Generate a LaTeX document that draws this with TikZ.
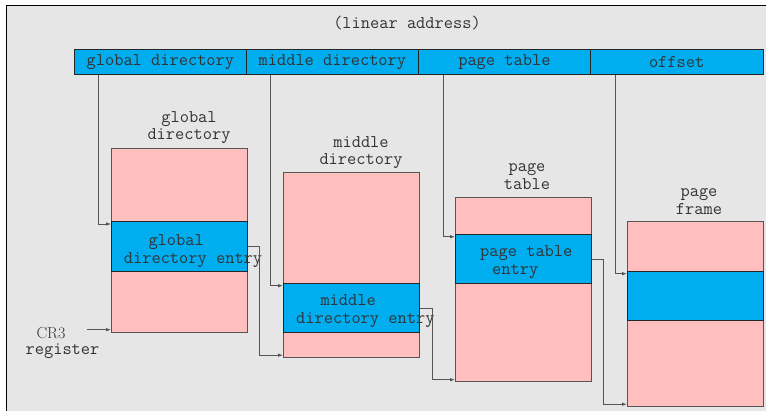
\documentclass[tikz,border=0pt]{standalone}
\usepackage{fontspec}
\usetikzlibrary{arrows.meta,calc}
\definecolor{bgc}{HTML}{E6E6E6}
\definecolor{hdr}{HTML}{00ADEF}
\definecolor{pinkc}{HTML}{FFBFBF}
\definecolor{lne}{HTML}{555555}
\definecolor{txt}{HTML}{333333}
\begin{document}
\begin{tikzpicture}[x=1pt,y=-1pt,
  every node/.style={font=\ttfamily\fontsize{17.9}{17.5}\selectfont, text=txt},
  seg/.style={draw=black!85, fill=hdr, minimum width=172pt, minimum height=25.5pt, inner sep=0pt, line width=0.8pt, anchor=north west},
  tbl/.style={draw=lne, fill=pinkc, minimum width=136pt, minimum height=184.5pt, inner sep=0pt, line width=0.9pt, anchor=north west},
  ent/.style={draw=black!85, fill=hdr, minimum width=136pt, minimum height=49.5pt, inner sep=0pt, line width=0.9pt, anchor=north west},
  conn/.style={draw=lne, line width=0.8pt, -{Latex[length=5pt,width=3.6pt]}},
  lbl/.style={align=center, inner sep=0pt},
  wl/.style={anchor=west, align=left, inner sep=0pt, font=\ttfamily\fontsize{17.9}{18}\selectfont}
]
\useasboundingbox (0,0) rectangle (766,411);
\fill[bgc] (6,6) rectangle (790,430);
\draw[black, line width=1pt] (6,430) -- (6,6) -- (790,6);

\node[lbl] (title) at (407,23) {(linear address)};

% header segments
\node[seg] (h1) at (74,49) {global directory};
\node[seg] (h2) at (246,49) {middle directory};
\node[seg] (h3) at (418,49) {page table};
\node[seg, minimum width=172.5pt] (h4) at (590,49) {offset};

% tables
\node[tbl] (t1) at (111,148) {};
\node[ent] (e1) at (111,221.5) {};
\node[tbl] (t2) at (283,172.5) {};
\node[ent] (e2) at (283,283) {};
\node[tbl] (t3) at (455,197) {};
\node[ent] (e3) at (455,234) {};
\node[tbl] (t4) at (627,221.5) {};
\node[ent] (e4) at (627,271) {};

% table titles
\node[lbl] (n1) at (189,127.5) {global\\directory};
\node[lbl] (n2) at (361,152.5) {middle\\directory};
\node[lbl] (n3) at (527,176.5) {page\\table};
\node[lbl] (n4) at (699,201.5) {page\\frame};

% entry texts
\node[wl] (e1t) at (123.7,251) {\hspace*{24.6pt}global\\directory entry};
\node[wl] (e2t) at (296,311) {\hspace*{24.3pt}middle\\directory entry};
\node[wl] (e3t) at (480,262.5) {page table\\\hspace*{12pt}entry};

% CR3
\node[lbl, font=\rmfamily\fontsize{16}{17.5}\selectfont] (cr3) at (51,333.5) {CR3};
\node[lbl] (reg) at (62.5,351.5) {register};
\coordinate (crs) at (86.7,329.7);
\draw[conn] (crs) -- (crs -| t1.west);

% header to entries
\draw[conn] ($(h1.south west)+(24.7,0)$) |- ($(e1.north west)+(0,2.5)$);
\draw[conn] ($(h2.south west)+(24.7,0)$) |- ($(e2.north west)+(0,2.7)$);
\draw[conn] ($(h3.south west)+(25,0)$) |- ($(e3.north west)+(0,2.7)$);
\draw[conn] ($(h4.south west)+(25.3,0)$) |- ($(e4.north west)+(0,2.7)$);

% entry to next table
\draw[conn] (e1.east) -- ++(11.5,0) |- ($(t2.south west)+(0,-2.7)$);
\draw[conn] (e2.east) -- ++(12,0) |- ($(t3.south west)+(0,-2.7)$);
\draw[conn] (e3.east) -- ++(11.7,0) |- ($(t4.south west)+(0,-2.7)$);
\end{tikzpicture}
\end{document}
